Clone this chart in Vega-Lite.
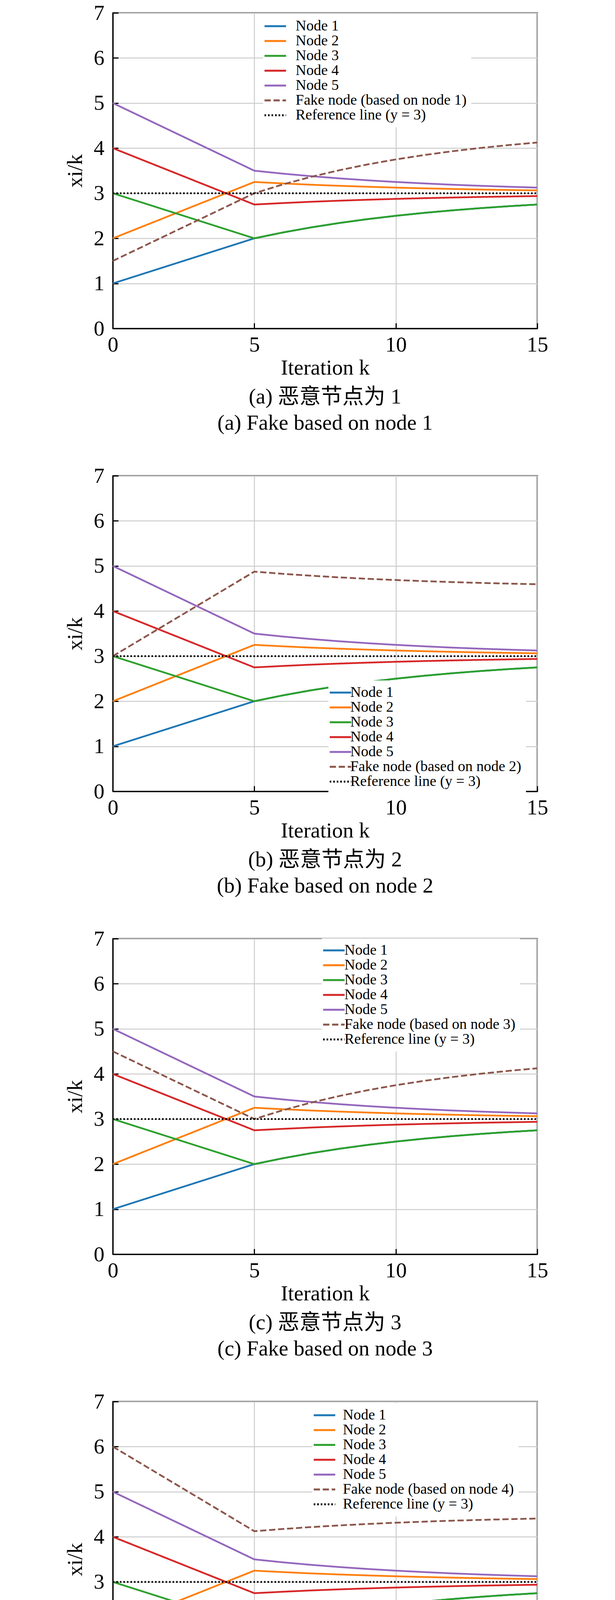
{
  "$schema": "https://vega.github.io/schema/vega-lite/v6.json",
  "padding": {"left": 164, "top": 4, "right": 0, "bottom": 0},
  "background": "white",
  "datasets": {
    "a": [
      {"s": "Node 1", "k": 0, "v": 1}, {"s": "Node 1", "k": 5, "v": 2}, {"s": "Node 1", "k": 6, "v": 2.129}, {"s": "Node 1", "k": 7, "v": 2.242}, {"s": "Node 1", "k": 8, "v": 2.34}, {"s": "Node 1", "k": 9, "v": 2.426}, {"s": "Node 1", "k": 10, "v": 2.5}, {"s": "Node 1", "k": 11, "v": 2.565}, {"s": "Node 1", "k": 12, "v": 2.621}, {"s": "Node 1", "k": 13, "v": 2.67}, {"s": "Node 1", "k": 14, "v": 2.713}, {"s": "Node 1", "k": 15, "v": 2.75},
      {"s": "Node 2", "k": 0, "v": 2}, {"s": "Node 2", "k": 5, "v": 3.25}, {"s": "Node 2", "k": 6, "v": 3.218}, {"s": "Node 2", "k": 7, "v": 3.189}, {"s": "Node 2", "k": 8, "v": 3.165}, {"s": "Node 2", "k": 9, "v": 3.144}, {"s": "Node 2", "k": 10, "v": 3.125}, {"s": "Node 2", "k": 11, "v": 3.109}, {"s": "Node 2", "k": 12, "v": 3.095}, {"s": "Node 2", "k": 13, "v": 3.082}, {"s": "Node 2", "k": 14, "v": 3.072}, {"s": "Node 2", "k": 15, "v": 3.063},
      {"s": "Node 3", "k": 0, "v": 3}, {"s": "Node 3", "k": 5, "v": 2}, {"s": "Node 3", "k": 6, "v": 2.129}, {"s": "Node 3", "k": 7, "v": 2.242}, {"s": "Node 3", "k": 8, "v": 2.34}, {"s": "Node 3", "k": 9, "v": 2.426}, {"s": "Node 3", "k": 10, "v": 2.5}, {"s": "Node 3", "k": 11, "v": 2.565}, {"s": "Node 3", "k": 12, "v": 2.621}, {"s": "Node 3", "k": 13, "v": 2.67}, {"s": "Node 3", "k": 14, "v": 2.713}, {"s": "Node 3", "k": 15, "v": 2.75},
      {"s": "Node 4", "k": 0, "v": 4}, {"s": "Node 4", "k": 5, "v": 2.75}, {"s": "Node 4", "k": 6, "v": 2.782}, {"s": "Node 4", "k": 7, "v": 2.811}, {"s": "Node 4", "k": 8, "v": 2.835}, {"s": "Node 4", "k": 9, "v": 2.856}, {"s": "Node 4", "k": 10, "v": 2.875}, {"s": "Node 4", "k": 11, "v": 2.891}, {"s": "Node 4", "k": 12, "v": 2.905}, {"s": "Node 4", "k": 13, "v": 2.918}, {"s": "Node 4", "k": 14, "v": 2.928}, {"s": "Node 4", "k": 15, "v": 2.938},
      {"s": "Node 5", "k": 0, "v": 5}, {"s": "Node 5", "k": 5, "v": 3.5}, {"s": "Node 5", "k": 6, "v": 3.435}, {"s": "Node 5", "k": 7, "v": 3.379}, {"s": "Node 5", "k": 8, "v": 3.33}, {"s": "Node 5", "k": 9, "v": 3.287}, {"s": "Node 5", "k": 10, "v": 3.25}, {"s": "Node 5", "k": 11, "v": 3.218}, {"s": "Node 5", "k": 12, "v": 3.189}, {"s": "Node 5", "k": 13, "v": 3.165}, {"s": "Node 5", "k": 14, "v": 3.144}, {"s": "Node 5", "k": 15, "v": 3.125},
      {"s": "Fake node (based on node 1)", "k": 0, "v": 1.5}, {"s": "Fake node (based on node 1)", "k": 5, "v": 3}, {"s": "Fake node (based on node 1)", "k": 6, "v": 3.194}, {"s": "Fake node (based on node 1)", "k": 7, "v": 3.363}, {"s": "Fake node (based on node 1)", "k": 8, "v": 3.51}, {"s": "Fake node (based on node 1)", "k": 9, "v": 3.639}, {"s": "Fake node (based on node 1)", "k": 10, "v": 3.75}, {"s": "Fake node (based on node 1)", "k": 11, "v": 3.847}, {"s": "Fake node (based on node 1)", "k": 12, "v": 3.932}, {"s": "Fake node (based on node 1)", "k": 13, "v": 4.005}, {"s": "Fake node (based on node 1)", "k": 14, "v": 4.069}, {"s": "Fake node (based on node 1)", "k": 15, "v": 4.125},
      {"s": "Reference line (y = 3)", "k": 0, "v": 3}, {"s": "Reference line (y = 3)", "k": 15, "v": 3}
    ],
    "b": [
      {"s": "Node 1", "k": 0, "v": 1}, {"s": "Node 1", "k": 5, "v": 2}, {"s": "Node 1", "k": 6, "v": 2.129}, {"s": "Node 1", "k": 7, "v": 2.242}, {"s": "Node 1", "k": 8, "v": 2.34}, {"s": "Node 1", "k": 9, "v": 2.426}, {"s": "Node 1", "k": 10, "v": 2.5}, {"s": "Node 1", "k": 11, "v": 2.565}, {"s": "Node 1", "k": 12, "v": 2.621}, {"s": "Node 1", "k": 13, "v": 2.67}, {"s": "Node 1", "k": 14, "v": 2.713}, {"s": "Node 1", "k": 15, "v": 2.75},
      {"s": "Node 2", "k": 0, "v": 2}, {"s": "Node 2", "k": 5, "v": 3.25}, {"s": "Node 2", "k": 6, "v": 3.218}, {"s": "Node 2", "k": 7, "v": 3.189}, {"s": "Node 2", "k": 8, "v": 3.165}, {"s": "Node 2", "k": 9, "v": 3.144}, {"s": "Node 2", "k": 10, "v": 3.125}, {"s": "Node 2", "k": 11, "v": 3.109}, {"s": "Node 2", "k": 12, "v": 3.095}, {"s": "Node 2", "k": 13, "v": 3.082}, {"s": "Node 2", "k": 14, "v": 3.072}, {"s": "Node 2", "k": 15, "v": 3.063},
      {"s": "Node 3", "k": 0, "v": 3}, {"s": "Node 3", "k": 5, "v": 2}, {"s": "Node 3", "k": 6, "v": 2.129}, {"s": "Node 3", "k": 7, "v": 2.242}, {"s": "Node 3", "k": 8, "v": 2.34}, {"s": "Node 3", "k": 9, "v": 2.426}, {"s": "Node 3", "k": 10, "v": 2.5}, {"s": "Node 3", "k": 11, "v": 2.565}, {"s": "Node 3", "k": 12, "v": 2.621}, {"s": "Node 3", "k": 13, "v": 2.67}, {"s": "Node 3", "k": 14, "v": 2.713}, {"s": "Node 3", "k": 15, "v": 2.75},
      {"s": "Node 4", "k": 0, "v": 4}, {"s": "Node 4", "k": 5, "v": 2.75}, {"s": "Node 4", "k": 6, "v": 2.782}, {"s": "Node 4", "k": 7, "v": 2.811}, {"s": "Node 4", "k": 8, "v": 2.835}, {"s": "Node 4", "k": 9, "v": 2.856}, {"s": "Node 4", "k": 10, "v": 2.875}, {"s": "Node 4", "k": 11, "v": 2.891}, {"s": "Node 4", "k": 12, "v": 2.905}, {"s": "Node 4", "k": 13, "v": 2.918}, {"s": "Node 4", "k": 14, "v": 2.928}, {"s": "Node 4", "k": 15, "v": 2.938},
      {"s": "Node 5", "k": 0, "v": 5}, {"s": "Node 5", "k": 5, "v": 3.5}, {"s": "Node 5", "k": 6, "v": 3.435}, {"s": "Node 5", "k": 7, "v": 3.379}, {"s": "Node 5", "k": 8, "v": 3.33}, {"s": "Node 5", "k": 9, "v": 3.287}, {"s": "Node 5", "k": 10, "v": 3.25}, {"s": "Node 5", "k": 11, "v": 3.218}, {"s": "Node 5", "k": 12, "v": 3.189}, {"s": "Node 5", "k": 13, "v": 3.165}, {"s": "Node 5", "k": 14, "v": 3.144}, {"s": "Node 5", "k": 15, "v": 3.125},
      {"s": "Fake node (based on node 2)", "k": 0, "v": 3}, {"s": "Fake node (based on node 2)", "k": 5, "v": 4.875}, {"s": "Fake node (based on node 2)", "k": 6, "v": 4.826}, {"s": "Fake node (based on node 2)", "k": 7, "v": 4.784}, {"s": "Fake node (based on node 2)", "k": 8, "v": 4.747}, {"s": "Fake node (based on node 2)", "k": 9, "v": 4.715}, {"s": "Fake node (based on node 2)", "k": 10, "v": 4.688}, {"s": "Fake node (based on node 2)", "k": 11, "v": 4.663}, {"s": "Fake node (based on node 2)", "k": 12, "v": 4.642}, {"s": "Fake node (based on node 2)", "k": 13, "v": 4.624}, {"s": "Fake node (based on node 2)", "k": 14, "v": 4.608}, {"s": "Fake node (based on node 2)", "k": 15, "v": 4.594},
      {"s": "Reference line (y = 3)", "k": 0, "v": 3}, {"s": "Reference line (y = 3)", "k": 15, "v": 3}
    ],
    "c": [
      {"s": "Node 1", "k": 0, "v": 1}, {"s": "Node 1", "k": 5, "v": 2}, {"s": "Node 1", "k": 6, "v": 2.129}, {"s": "Node 1", "k": 7, "v": 2.242}, {"s": "Node 1", "k": 8, "v": 2.34}, {"s": "Node 1", "k": 9, "v": 2.426}, {"s": "Node 1", "k": 10, "v": 2.5}, {"s": "Node 1", "k": 11, "v": 2.565}, {"s": "Node 1", "k": 12, "v": 2.621}, {"s": "Node 1", "k": 13, "v": 2.67}, {"s": "Node 1", "k": 14, "v": 2.713}, {"s": "Node 1", "k": 15, "v": 2.75},
      {"s": "Node 2", "k": 0, "v": 2}, {"s": "Node 2", "k": 5, "v": 3.25}, {"s": "Node 2", "k": 6, "v": 3.218}, {"s": "Node 2", "k": 7, "v": 3.189}, {"s": "Node 2", "k": 8, "v": 3.165}, {"s": "Node 2", "k": 9, "v": 3.144}, {"s": "Node 2", "k": 10, "v": 3.125}, {"s": "Node 2", "k": 11, "v": 3.109}, {"s": "Node 2", "k": 12, "v": 3.095}, {"s": "Node 2", "k": 13, "v": 3.082}, {"s": "Node 2", "k": 14, "v": 3.072}, {"s": "Node 2", "k": 15, "v": 3.063},
      {"s": "Node 3", "k": 0, "v": 3}, {"s": "Node 3", "k": 5, "v": 2}, {"s": "Node 3", "k": 6, "v": 2.129}, {"s": "Node 3", "k": 7, "v": 2.242}, {"s": "Node 3", "k": 8, "v": 2.34}, {"s": "Node 3", "k": 9, "v": 2.426}, {"s": "Node 3", "k": 10, "v": 2.5}, {"s": "Node 3", "k": 11, "v": 2.565}, {"s": "Node 3", "k": 12, "v": 2.621}, {"s": "Node 3", "k": 13, "v": 2.67}, {"s": "Node 3", "k": 14, "v": 2.713}, {"s": "Node 3", "k": 15, "v": 2.75},
      {"s": "Node 4", "k": 0, "v": 4}, {"s": "Node 4", "k": 5, "v": 2.75}, {"s": "Node 4", "k": 6, "v": 2.782}, {"s": "Node 4", "k": 7, "v": 2.811}, {"s": "Node 4", "k": 8, "v": 2.835}, {"s": "Node 4", "k": 9, "v": 2.856}, {"s": "Node 4", "k": 10, "v": 2.875}, {"s": "Node 4", "k": 11, "v": 2.891}, {"s": "Node 4", "k": 12, "v": 2.905}, {"s": "Node 4", "k": 13, "v": 2.918}, {"s": "Node 4", "k": 14, "v": 2.928}, {"s": "Node 4", "k": 15, "v": 2.938},
      {"s": "Node 5", "k": 0, "v": 5}, {"s": "Node 5", "k": 5, "v": 3.5}, {"s": "Node 5", "k": 6, "v": 3.435}, {"s": "Node 5", "k": 7, "v": 3.379}, {"s": "Node 5", "k": 8, "v": 3.33}, {"s": "Node 5", "k": 9, "v": 3.287}, {"s": "Node 5", "k": 10, "v": 3.25}, {"s": "Node 5", "k": 11, "v": 3.218}, {"s": "Node 5", "k": 12, "v": 3.189}, {"s": "Node 5", "k": 13, "v": 3.165}, {"s": "Node 5", "k": 14, "v": 3.144}, {"s": "Node 5", "k": 15, "v": 3.125},
      {"s": "Fake node (based on node 3)", "k": 0, "v": 4.5}, {"s": "Fake node (based on node 3)", "k": 5, "v": 3}, {"s": "Fake node (based on node 3)", "k": 6, "v": 3.194}, {"s": "Fake node (based on node 3)", "k": 7, "v": 3.363}, {"s": "Fake node (based on node 3)", "k": 8, "v": 3.51}, {"s": "Fake node (based on node 3)", "k": 9, "v": 3.639}, {"s": "Fake node (based on node 3)", "k": 10, "v": 3.75}, {"s": "Fake node (based on node 3)", "k": 11, "v": 3.847}, {"s": "Fake node (based on node 3)", "k": 12, "v": 3.932}, {"s": "Fake node (based on node 3)", "k": 13, "v": 4.005}, {"s": "Fake node (based on node 3)", "k": 14, "v": 4.069}, {"s": "Fake node (based on node 3)", "k": 15, "v": 4.125},
      {"s": "Reference line (y = 3)", "k": 0, "v": 3}, {"s": "Reference line (y = 3)", "k": 15, "v": 3}
    ],
    "d": [
      {"s": "Node 1", "k": 0, "v": 1}, {"s": "Node 1", "k": 5, "v": 2}, {"s": "Node 1", "k": 6, "v": 2.129}, {"s": "Node 1", "k": 7, "v": 2.242}, {"s": "Node 1", "k": 8, "v": 2.34}, {"s": "Node 1", "k": 9, "v": 2.426}, {"s": "Node 1", "k": 10, "v": 2.5}, {"s": "Node 1", "k": 11, "v": 2.565}, {"s": "Node 1", "k": 12, "v": 2.621}, {"s": "Node 1", "k": 13, "v": 2.67}, {"s": "Node 1", "k": 14, "v": 2.713}, {"s": "Node 1", "k": 15, "v": 2.75},
      {"s": "Node 2", "k": 0, "v": 2}, {"s": "Node 2", "k": 5, "v": 3.25}, {"s": "Node 2", "k": 6, "v": 3.218}, {"s": "Node 2", "k": 7, "v": 3.189}, {"s": "Node 2", "k": 8, "v": 3.165}, {"s": "Node 2", "k": 9, "v": 3.144}, {"s": "Node 2", "k": 10, "v": 3.125}, {"s": "Node 2", "k": 11, "v": 3.109}, {"s": "Node 2", "k": 12, "v": 3.095}, {"s": "Node 2", "k": 13, "v": 3.082}, {"s": "Node 2", "k": 14, "v": 3.072}, {"s": "Node 2", "k": 15, "v": 3.063},
      {"s": "Node 3", "k": 0, "v": 3}, {"s": "Node 3", "k": 5, "v": 2}, {"s": "Node 3", "k": 6, "v": 2.129}, {"s": "Node 3", "k": 7, "v": 2.242}, {"s": "Node 3", "k": 8, "v": 2.34}, {"s": "Node 3", "k": 9, "v": 2.426}, {"s": "Node 3", "k": 10, "v": 2.5}, {"s": "Node 3", "k": 11, "v": 2.565}, {"s": "Node 3", "k": 12, "v": 2.621}, {"s": "Node 3", "k": 13, "v": 2.67}, {"s": "Node 3", "k": 14, "v": 2.713}, {"s": "Node 3", "k": 15, "v": 2.75},
      {"s": "Node 4", "k": 0, "v": 4}, {"s": "Node 4", "k": 5, "v": 2.75}, {"s": "Node 4", "k": 6, "v": 2.782}, {"s": "Node 4", "k": 7, "v": 2.811}, {"s": "Node 4", "k": 8, "v": 2.835}, {"s": "Node 4", "k": 9, "v": 2.856}, {"s": "Node 4", "k": 10, "v": 2.875}, {"s": "Node 4", "k": 11, "v": 2.891}, {"s": "Node 4", "k": 12, "v": 2.905}, {"s": "Node 4", "k": 13, "v": 2.918}, {"s": "Node 4", "k": 14, "v": 2.928}, {"s": "Node 4", "k": 15, "v": 2.938},
      {"s": "Node 5", "k": 0, "v": 5}, {"s": "Node 5", "k": 5, "v": 3.5}, {"s": "Node 5", "k": 6, "v": 3.435}, {"s": "Node 5", "k": 7, "v": 3.379}, {"s": "Node 5", "k": 8, "v": 3.33}, {"s": "Node 5", "k": 9, "v": 3.287}, {"s": "Node 5", "k": 10, "v": 3.25}, {"s": "Node 5", "k": 11, "v": 3.218}, {"s": "Node 5", "k": 12, "v": 3.189}, {"s": "Node 5", "k": 13, "v": 3.165}, {"s": "Node 5", "k": 14, "v": 3.144}, {"s": "Node 5", "k": 15, "v": 3.125},
      {"s": "Fake node (based on node 4)", "k": 0, "v": 6}, {"s": "Fake node (based on node 4)", "k": 5, "v": 4.125}, {"s": "Fake node (based on node 4)", "k": 6, "v": 4.174}, {"s": "Fake node (based on node 4)", "k": 7, "v": 4.216}, {"s": "Fake node (based on node 4)", "k": 8, "v": 4.253}, {"s": "Fake node (based on node 4)", "k": 9, "v": 4.285}, {"s": "Fake node (based on node 4)", "k": 10, "v": 4.313}, {"s": "Fake node (based on node 4)", "k": 11, "v": 4.337}, {"s": "Fake node (based on node 4)", "k": 12, "v": 4.358}, {"s": "Fake node (based on node 4)", "k": 13, "v": 4.376}, {"s": "Fake node (based on node 4)", "k": 14, "v": 4.392}, {"s": "Fake node (based on node 4)", "k": 15, "v": 4.406},
      {"s": "Reference line (y = 3)", "k": 0, "v": 3}, {"s": "Reference line (y = 3)", "k": 15, "v": 3}
    ],
    "e": [
      {"s": "Node 1", "k": 0, "v": 1}, {"s": "Node 1", "k": 5, "v": 2}, {"s": "Node 1", "k": 6, "v": 2.129}, {"s": "Node 1", "k": 7, "v": 2.242}, {"s": "Node 1", "k": 8, "v": 2.34}, {"s": "Node 1", "k": 9, "v": 2.426}, {"s": "Node 1", "k": 10, "v": 2.5}, {"s": "Node 1", "k": 11, "v": 2.565}, {"s": "Node 1", "k": 12, "v": 2.621}, {"s": "Node 1", "k": 13, "v": 2.67}, {"s": "Node 1", "k": 14, "v": 2.713}, {"s": "Node 1", "k": 15, "v": 2.75},
      {"s": "Node 2", "k": 0, "v": 2}, {"s": "Node 2", "k": 5, "v": 3.25}, {"s": "Node 2", "k": 6, "v": 3.218}, {"s": "Node 2", "k": 7, "v": 3.189}, {"s": "Node 2", "k": 8, "v": 3.165}, {"s": "Node 2", "k": 9, "v": 3.144}, {"s": "Node 2", "k": 10, "v": 3.125}, {"s": "Node 2", "k": 11, "v": 3.109}, {"s": "Node 2", "k": 12, "v": 3.095}, {"s": "Node 2", "k": 13, "v": 3.082}, {"s": "Node 2", "k": 14, "v": 3.072}, {"s": "Node 2", "k": 15, "v": 3.063},
      {"s": "Node 3", "k": 0, "v": 3}, {"s": "Node 3", "k": 5, "v": 2}, {"s": "Node 3", "k": 6, "v": 2.129}, {"s": "Node 3", "k": 7, "v": 2.242}, {"s": "Node 3", "k": 8, "v": 2.34}, {"s": "Node 3", "k": 9, "v": 2.426}, {"s": "Node 3", "k": 10, "v": 2.5}, {"s": "Node 3", "k": 11, "v": 2.565}, {"s": "Node 3", "k": 12, "v": 2.621}, {"s": "Node 3", "k": 13, "v": 2.67}, {"s": "Node 3", "k": 14, "v": 2.713}, {"s": "Node 3", "k": 15, "v": 2.75},
      {"s": "Node 4", "k": 0, "v": 4}, {"s": "Node 4", "k": 5, "v": 2.75}, {"s": "Node 4", "k": 6, "v": 2.782}, {"s": "Node 4", "k": 7, "v": 2.811}, {"s": "Node 4", "k": 8, "v": 2.835}, {"s": "Node 4", "k": 9, "v": 2.856}, {"s": "Node 4", "k": 10, "v": 2.875}, {"s": "Node 4", "k": 11, "v": 2.891}, {"s": "Node 4", "k": 12, "v": 2.905}, {"s": "Node 4", "k": 13, "v": 2.918}, {"s": "Node 4", "k": 14, "v": 2.928}, {"s": "Node 4", "k": 15, "v": 2.938},
      {"s": "Node 5", "k": 0, "v": 5}, {"s": "Node 5", "k": 5, "v": 3.5}, {"s": "Node 5", "k": 6, "v": 3.435}, {"s": "Node 5", "k": 7, "v": 3.379}, {"s": "Node 5", "k": 8, "v": 3.33}, {"s": "Node 5", "k": 9, "v": 3.287}, {"s": "Node 5", "k": 10, "v": 3.25}, {"s": "Node 5", "k": 11, "v": 3.218}, {"s": "Node 5", "k": 12, "v": 3.189}, {"s": "Node 5", "k": 13, "v": 3.165}, {"s": "Node 5", "k": 14, "v": 3.144}, {"s": "Node 5", "k": 15, "v": 3.125},
      {"s": "Fake node (based on node 5)", "k": 0, "v": 7.5}, {"s": "Fake node (based on node 5)", "k": 5, "v": 5.25}, {"s": "Fake node (based on node 5)", "k": 6, "v": 5.153}, {"s": "Fake node (based on node 5)", "k": 7, "v": 5.068}, {"s": "Fake node (based on node 5)", "k": 8, "v": 4.995}, {"s": "Fake node (based on node 5)", "k": 9, "v": 4.931}, {"s": "Fake node (based on node 5)", "k": 10, "v": 4.875}, {"s": "Fake node (based on node 5)", "k": 11, "v": 4.827}, {"s": "Fake node (based on node 5)", "k": 12, "v": 4.784}, {"s": "Fake node (based on node 5)", "k": 13, "v": 4.747}, {"s": "Fake node (based on node 5)", "k": 14, "v": 4.715}, {"s": "Fake node (based on node 5)", "k": 15, "v": 4.688},
      {"s": "Reference line (y = 3)", "k": 0, "v": 3}, {"s": "Reference line (y = 3)", "k": 15, "v": 3}
    ]
  },
  "vconcat": [
    {
      "width": 1087,
      "height": 808,
      "data": {"name": "a"},
      "title": {"text": ["(a) 恶意节点为 1", "(a) Fake based on node 1"]},
      "mark": {"type": "line", "clip": true, "strokeWidth": 4.5},
      "encoding": {
        "x": {"field": "k", "type": "quantitative", "scale": {"domain": [0, 15]}, "axis": {"values": [0, 5, 10, 15], "title": "Iteration k"}},
        "y": {"field": "v", "type": "quantitative", "scale": {"domain": [0, 7]}, "axis": {"values": [0, 1, 2, 3, 4, 5, 6, 7], "title": "xi/k"}},
        "color": {"field": "s", "type": "nominal", "sort": null,
          "scale": {"domain": ["Node 1", "Node 2", "Node 3", "Node 4", "Node 5", "Fake node (based on node 1)", "Reference line (y = 3)"], "range": ["#1f77b4", "#ff7f0e", "#2ca02c", "#d62728", "#9467bd", "#8c564b", "#000000"]},
          "legend": {"orient": "none", "legendX": 385, "legendY": 3, "labelOffset": 33}},
        "strokeDash": {"field": "s", "type": "nominal", "sort": null,
          "scale": {"domain": ["Node 1", "Node 2", "Node 3", "Node 4", "Node 5", "Fake node (based on node 1)", "Reference line (y = 3)"], "range": [[1, 0], [1, 0], [1, 0], [1, 0], [1, 0], [16, 7], [4, 5]]},
          "legend": {"orient": "none", "legendX": 385, "legendY": 3, "labelOffset": 33}}
      }
    },
    {
      "width": 1087,
      "height": 808,
      "data": {"name": "b"},
      "title": {"text": ["(b) 恶意节点为 2", "(b) Fake based on node 2"]},
      "mark": {"type": "line", "clip": true, "strokeWidth": 4.5},
      "encoding": {
        "x": {"field": "k", "type": "quantitative", "scale": {"domain": [0, 15]}, "axis": {"values": [0, 5, 10, 15], "title": "Iteration k"}},
        "y": {"field": "v", "type": "quantitative", "scale": {"domain": [0, 7]}, "axis": {"values": [0, 1, 2, 3, 4, 5, 6, 7], "title": "xi/k"}},
        "color": {"field": "s", "type": "nominal", "sort": null,
          "scale": {"domain": ["Node 1", "Node 2", "Node 3", "Node 4", "Node 5", "Fake node (based on node 2)", "Reference line (y = 3)"], "range": ["#1f77b4", "#ff7f0e", "#2ca02c", "#d62728", "#9467bd", "#8c564b", "#000000"]},
          "legend": {"orient": "none", "legendX": 552, "legendY": 524, "labelOffset": 6}},
        "strokeDash": {"field": "s", "type": "nominal", "sort": null,
          "scale": {"domain": ["Node 1", "Node 2", "Node 3", "Node 4", "Node 5", "Fake node (based on node 2)", "Reference line (y = 3)"], "range": [[1, 0], [1, 0], [1, 0], [1, 0], [1, 0], [16, 7], [4, 5]]},
          "legend": {"orient": "none", "legendX": 552, "legendY": 524, "labelOffset": 6}}
      }
    },
    {
      "width": 1087,
      "height": 808,
      "data": {"name": "c"},
      "title": {"text": ["(c) 恶意节点为 3", "(c) Fake based on node 3"]},
      "mark": {"type": "line", "clip": true, "strokeWidth": 4.5},
      "encoding": {
        "x": {"field": "k", "type": "quantitative", "scale": {"domain": [0, 15]}, "axis": {"values": [0, 5, 10, 15], "title": "Iteration k"}},
        "y": {"field": "v", "type": "quantitative", "scale": {"domain": [0, 7]}, "axis": {"values": [0, 1, 2, 3, 4, 5, 6, 7], "title": "xi/k"}},
        "color": {"field": "s", "type": "nominal", "sort": null,
          "scale": {"domain": ["Node 1", "Node 2", "Node 3", "Node 4", "Node 5", "Fake node (based on node 3)", "Reference line (y = 3)"], "range": ["#1f77b4", "#ff7f0e", "#2ca02c", "#d62728", "#9467bd", "#8c564b", "#000000"]},
          "legend": {"orient": "none", "legendX": 535, "legendY": -1, "labelOffset": 8}},
        "strokeDash": {"field": "s", "type": "nominal", "sort": null,
          "scale": {"domain": ["Node 1", "Node 2", "Node 3", "Node 4", "Node 5", "Fake node (based on node 3)", "Reference line (y = 3)"], "range": [[1, 0], [1, 0], [1, 0], [1, 0], [1, 0], [16, 7], [4, 5]]},
          "legend": {"orient": "none", "legendX": 535, "legendY": -1, "labelOffset": 8}}
      }
    },
    {
      "width": 1087,
      "height": 808,
      "data": {"name": "d"},
      "title": {"text": ["(d) 恶意节点为 4", "(d) Fake based on node 4"]},
      "mark": {"type": "line", "clip": true, "strokeWidth": 4.5},
      "encoding": {
        "x": {"field": "k", "type": "quantitative", "scale": {"domain": [0, 15]}, "axis": {"values": [0, 5, 10, 15], "title": "Iteration k"}},
        "y": {"field": "v", "type": "quantitative", "scale": {"domain": [0, 7]}, "axis": {"values": [0, 1, 2, 3, 4, 5, 6, 7], "title": "xi/k"}},
        "color": {"field": "s", "type": "nominal", "sort": null,
          "scale": {"domain": ["Node 1", "Node 2", "Node 3", "Node 4", "Node 5", "Fake node (based on node 4)", "Reference line (y = 3)"], "range": ["#1f77b4", "#ff7f0e", "#2ca02c", "#d62728", "#9467bd", "#8c564b", "#000000"]},
          "legend": {"orient": "none", "legendX": 511, "legendY": 4, "labelOffset": 28}},
        "strokeDash": {"field": "s", "type": "nominal", "sort": null,
          "scale": {"domain": ["Node 1", "Node 2", "Node 3", "Node 4", "Node 5", "Fake node (based on node 4)", "Reference line (y = 3)"], "range": [[1, 0], [1, 0], [1, 0], [1, 0], [1, 0], [16, 7], [4, 5]]},
          "legend": {"orient": "none", "legendX": 511, "legendY": 4, "labelOffset": 28}}
      }
    },
    {
      "width": 1087,
      "height": 808,
      "data": {"name": "e"},
      "title": {"text": ["(e) 恶意节点为 5", "(e) Fake based on node 5"]},
      "mark": {"type": "line", "clip": true, "strokeWidth": 4.5},
      "encoding": {
        "x": {"field": "k", "type": "quantitative", "scale": {"domain": [0, 15]}, "axis": {"values": [0, 5, 10, 15], "title": "Iteration k"}},
        "y": {"field": "v", "type": "quantitative", "scale": {"domain": [0, 7]}, "axis": {"values": [0, 1, 2, 3, 4, 5, 6, 7], "title": "xi/k"}},
        "color": {"field": "s", "type": "nominal", "sort": null,
          "scale": {"domain": ["Node 1", "Node 2", "Node 3", "Node 4", "Node 5", "Fake node (based on node 5)", "Reference line (y = 3)"], "range": ["#1f77b4", "#ff7f0e", "#2ca02c", "#d62728", "#9467bd", "#8c564b", "#000000"]},
          "legend": {"orient": "none", "legendX": 554, "legendY": 526, "labelOffset": 10}},
        "strokeDash": {"field": "s", "type": "nominal", "sort": null,
          "scale": {"domain": ["Node 1", "Node 2", "Node 3", "Node 4", "Node 5", "Fake node (based on node 5)", "Reference line (y = 3)"], "range": [[1, 0], [1, 0], [1, 0], [1, 0], [1, 0], [16, 7], [4, 5]]},
          "legend": {"orient": "none", "legendX": 554, "legendY": 526, "labelOffset": 10}}
      }
    }
  ],
  "resolve": {"scale": {"color": "independent", "strokeDash": "independent"}},
  "config": {
    "font": "Liberation Serif",
    "view": {"stroke": "black", "strokeWidth": 3},
    "concat": {"spacing": 76},
    "axis": {
      "labelFont": "Liberation Serif", "labelFontSize": 55, "labelColor": "black",
      "titleFont": "Liberation Serif", "titleFontSize": 55, "titleFontWeight": "normal", "titleColor": "black",
      "domainColor": "black", "domainWidth": 3,
      "tickColor": "black", "tickWidth": 3, "tickSize": -14,
      "gridColor": "#cccccc", "gridWidth": 2.5,
      "labelFlush": false, "labelOverlap": false
    },
    "axisX": {"labelPadding": 29, "titlePadding": 5},
    "axisY": {"labelPadding": 36, "titlePadding": 18},
    "title": {"orient": "bottom", "anchor": "middle", "frame": "group", "font": "Liberation Serif, Noto Sans CJK SC", "fontSize": 55, "fontWeight": "normal", "color": "black", "lineHeight": 67, "offset": 21},
    "legend": {
      "title": null, "labelFont": "Liberation Serif", "labelFontSize": 38, "labelColor": "black",
      "symbolType": "M-1.67,0H1.67", "symbolSize": 1089, "symbolStrokeWidth": 5,
      "padding": 12, "fillColor": "white", "rowPadding": 0, "labelLimit": 0
    }
  }
}
